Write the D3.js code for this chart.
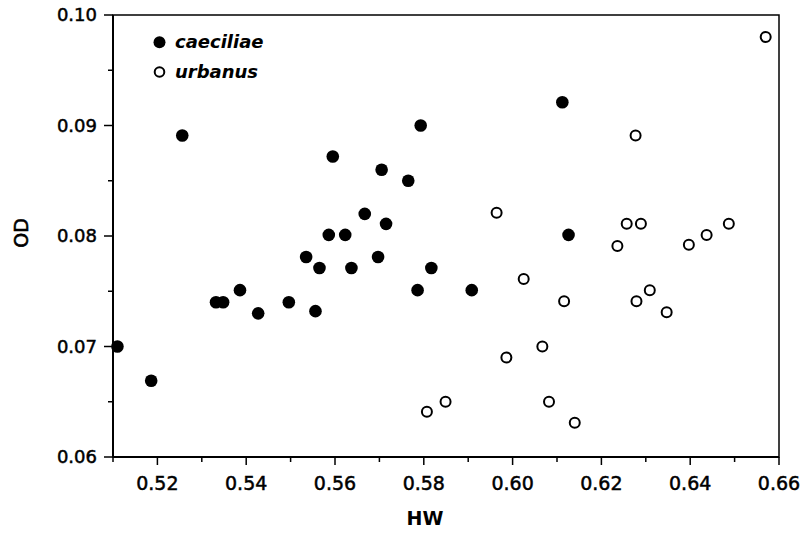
<!DOCTYPE html>
<html><head><meta charset="utf-8">
<script src="https://cdn.jsdelivr.net/npm/d3@7"></script>
<style>body{margin:0;background:#fff}svg{display:block}</style>
</head><body>
<svg id="c" width="810" height="533"></svg>
<script>
const caeciliaeHW = [0.511,0.5186,0.5256,0.5332,0.5348,0.5386,0.5427,0.5496,0.5556,0.5535,0.5565,0.5586,0.5623,0.5637,0.5697,0.5595,0.5705,0.5667,0.5715,0.5793,0.5765,0.6112,0.6126,0.5817,0.5786,0.5908];
const caeciliaeOD = [0.0700,0.0669,0.0891,0.0740,0.0740,0.0751,0.0730,0.0740,0.0732,0.0781,0.0771,0.0801,0.0801,0.0771,0.0781,0.0872,0.0860,0.0820,0.0811,0.0900,0.0850,0.0921,0.0801,0.0771,0.0751,0.0751];
const urbanusHW = [0.6570,0.6277,0.5964,0.6257,0.6289,0.6487,0.6437,0.6397,0.6236,0.6025,0.6116,0.6279,0.6309,0.6347,0.6067,0.5986,0.5849,0.5807,0.6082,0.6140];
const urbanusOD = [0.0980,0.0891,0.0821,0.0811,0.0811,0.0811,0.0801,0.0792,0.0791,0.0761,0.0741,0.0741,0.0751,0.0731,0.0700,0.0690,0.0650,0.0641,0.0650,0.0631];
const xTickLabels = ["0.52","0.54","0.56","0.58","0.60","0.62","0.64","0.66"];
const yTickLabels = ["0.06","0.07","0.08","0.09","0.10"];
const seriesNames = ["caeciliae","urbanus"];

const svg = d3.select("#c");
const L=113, R=779, T=15, B=457;
const x = d3.scaleLinear().domain([0.51,0.66]).range([L,R]);
const y = d3.scaleLinear().domain([0.06,0.10]).range([B,T]);
const font = "'DejaVu Sans', sans-serif";

// frame
svg.append("rect").attr("x",L).attr("y",T).attr("width",R-L).attr("height",B-T)
  .attr("fill","none").attr("stroke","#000").attr("stroke-width",1.5);
svg.append("line").attr("x1",L).attr("x2",R).attr("y1",B).attr("y2",B).attr("stroke","#000").attr("stroke-width",2);
svg.append("line").attr("x1",L).attr("x2",L).attr("y1",T).attr("y2",B).attr("stroke","#000").attr("stroke-width",2);

// x ticks
const xMinor = d3.range(0,16).map(i=>0.51+i*0.01);
svg.append("g").selectAll("line").data(xMinor).join("line")
  .attr("x1",d=>x(d)).attr("x2",d=>x(d)).attr("y1",B)
  .attr("y2",(d,i)=> i%2===1 ? B+8 : B+5)
  .attr("stroke","#000").attr("stroke-width",1.5);
svg.append("g").selectAll("text").data(xTickLabels).join("text")
  .attr("x",d=>x(+d)).attr("y",490).attr("text-anchor","middle")
  .attr("font-family",font).attr("font-size",19)
  .attr("stroke","#000").attr("stroke-width",0.5).text(d=>d);

// y ticks
const yMinor = d3.range(0,9).map(i=>0.06+i*0.005);
svg.append("g").selectAll("line").data(yMinor).join("line")
  .attr("y1",d=>y(d)).attr("y2",d=>y(d)).attr("x1",L)
  .attr("x2",(d,i)=> i%2===0 ? L-9 : L-5)
  .attr("stroke","#000").attr("stroke-width",1.5);
svg.append("g").selectAll("text").data(yTickLabels).join("text")
  .attr("x",97).attr("y",d=>y(+d)).attr("dy","0.36em").attr("text-anchor","end")
  .attr("font-family",font).attr("font-size",18)
  .attr("stroke","#000").attr("stroke-width",0.5).text(d=>d);

// axis titles
svg.append("text").attr("x",425).attr("y",525).attr("text-anchor","middle")
  .attr("font-family",font).attr("font-size",19).attr("font-weight","bold").text("HW");
svg.append("text").attr("transform","translate(28,233) rotate(-90)").attr("text-anchor","middle")
  .attr("font-family",font).attr("font-size",19).attr("stroke","#000").attr("stroke-width",0.6).text("OD");

// points
const cae = caeciliaeHW.map((v,i)=>({hw:v, od:caeciliaeOD[i]}));
const urb = urbanusHW.map((v,i)=>({hw:v, od:urbanusOD[i]}));
svg.append("g").selectAll("circle").data(cae).join("circle")
  .attr("cx",d=>x(d.hw)).attr("cy",d=>y(d.od)).attr("r",6.3).attr("fill","#000");
svg.append("g").selectAll("circle").data(urb).join("circle")
  .attr("cx",d=>x(d.hw)).attr("cy",d=>y(d.od)).attr("r",5).attr("fill","#fff")
  .attr("stroke","#000").attr("stroke-width",2);

// legend
const lg = svg.append("g");
lg.append("circle").attr("cx",159.5).attr("cy",42.3).attr("r",6).attr("fill","#000");
lg.append("circle").attr("cx",159.5).attr("cy",72).attr("r",4.8).attr("fill","#fff").attr("stroke","#000").attr("stroke-width",2);
lg.selectAll("text").data(seriesNames).join("text")
  .attr("x",175).attr("y",(d,i)=>48+i*29.5)
  .attr("font-family",font).attr("font-size",18).attr("font-weight","bold").attr("font-style","italic")
  .text(d=>d);
</script>
</body></html>
